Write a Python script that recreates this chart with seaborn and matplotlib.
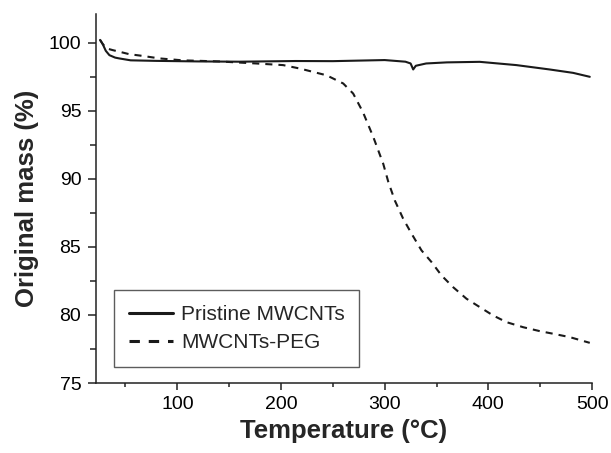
import pandas as pd
import seaborn as sns
import matplotlib.pyplot as plt
from matplotlib.ticker import MultipleLocator

# ==============================================================================
# TGA curves: pristine vs PEG-functionalised MWCNTs
# ==============================================================================

# --- data ---
pristine_temp = [25.5, 28, 31, 34.5, 40, 44, 55, 80, 120, 160, 214, 250, 300, 320,
                 325, 327.5, 330, 340, 360, 391.6, 427, 459, 481.7, 497.8]
pristine_mass = [100.2, 99.9, 99.4, 99.08, 98.9, 98.84, 98.7, 98.66, 98.62, 98.6,
                 98.65, 98.64, 98.72, 98.6, 98.47, 98.03, 98.3, 98.47, 98.55, 98.59,
                 98.35, 98.03, 97.78, 97.49]

peg_temp = [25.5, 28, 32, 37.7, 44.8, 53.7, 64, 83, 105, 140, 176, 202, 218, 244, 260,
            269.6, 279, 289, 298.6, 303.5, 309.8, 317.8, 325.9, 335.5, 345.2, 354.8,
            366, 378.9, 391.8, 404.6, 417.5, 433.5, 449.6, 462.4, 478.5, 497.8]
peg_mass = [100.2, 99.9, 99.57, 99.45, 99.32, 99.15, 99.05, 98.84, 98.7, 98.62, 98.47,
            98.35, 98.1, 97.6, 97.0, 96.26, 94.9, 93.07, 91.1, 89.77, 88.4, 87.07,
            85.97, 84.74, 83.88, 82.9, 82.04, 81.19, 80.57, 79.96, 79.47, 79.1, 78.81,
            78.62, 78.37, 77.95]

series_names = ['Pristine MWCNTs', 'MWCNTs-PEG']
x_ticks = [100, 200, 300, 400, 500]
y_ticks = [75, 80, 85, 90, 95, 100]


def make_plot():
    df = pd.concat([
        pd.DataFrame({'Temperature': pristine_temp, 'Mass': pristine_mass,
                      'Sample': series_names[0]}),
        pd.DataFrame({'Temperature': peg_temp, 'Mass': peg_mass,
                      'Sample': series_names[1]}),
    ], ignore_index=True)

    sns.set_style('ticks')
    plt.rcParams['font.family'] = ['Liberation Sans', 'DejaVu Sans']

    fig = plt.figure(figsize=(6.11, 4.53), dpi=100)
    ax = fig.add_axes([0.157, 0.1545, 0.812, 0.8145])

    sns.lineplot(data=df, x='Temperature', y='Mass', hue='Sample', style='Sample',
                 palette={series_names[0]: '#1a1a1a', series_names[1]: '#1a1a1a'},
                 dashes={series_names[0]: '', series_names[1]: (3.4, 2.9)},
                 linewidth=1.5, sort=False, estimator=None, ax=ax)

    ax.set_xlim(21.5, 500)
    ax.set_ylim(75, 102.1)
    ax.set_xticks(x_ticks)
    ax.set_yticks(y_ticks)
    ax.xaxis.set_minor_locator(MultipleLocator(50))
    ax.yaxis.set_minor_locator(MultipleLocator(2.5))

    for side in ['top', 'right']:
        ax.spines[side].set_visible(False)
    for side in ['left', 'bottom']:
        ax.spines[side].set_linewidth(1.1)
        ax.spines[side].set_color('#222222')

    ax.tick_params(axis='both', which='both', width=1.1, colors='#222222',
                   labelcolor='black', labelsize=14)
    ax.tick_params(axis='x', which='major', length=5, pad=4.5)
    ax.tick_params(axis='x', which='minor', length=3)
    ax.tick_params(axis='y', which='major', length=6, pad=4.5)
    ax.tick_params(axis='y', which='minor', length=4.5)

    ax.set_xlabel('Temperature (°C)', fontsize=18.5, fontweight='bold', labelpad=4)
    ax.set_ylabel('Original mass (%)', fontsize=18.5, fontweight='bold', labelpad=7)

    leg = ax.legend(loc='lower left', bbox_to_anchor=(0.037, 0.044), borderaxespad=0,
                    fontsize=15, handlelength=2.1, handletextpad=0.4,
                    borderpad=0.7, labelspacing=0.45, fancybox=False, frameon=True)
    leg.get_frame().set_edgecolor('#333333')
    leg.get_frame().set_linewidth(1.0)
    for line in leg.get_lines():
        line.set_linewidth(2.2)

    plt.savefig('out.png', dpi=100)


if __name__ == '__main__':
    make_plot()
